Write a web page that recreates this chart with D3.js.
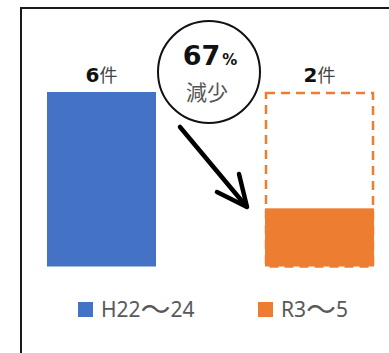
<!DOCTYPE html>
<html>
<head>
<meta charset="utf-8">
<script src="https://cdn.jsdelivr.net/npm/d3@7"></script>
<style>
  html, body { margin: 0; padding: 0; background: #fff; overflow: hidden; }
  svg { display: block; }
</style>
</head>
<body>
<svg id="chart" width="389" height="353"></svg>
<script>
// Case counts for the two periods
const categories = ["H22～24", "R3～5"];
const values = [6, 2];
const unit = "件";
const colors = ["#4472C4", "#ED7D31"];
const reductionLabel = "67";
const reductionUnit = "%";
const reductionText = "減少";

const svg = d3.select("#chart");
const cjk = "'Noto Sans CJK JP', sans-serif";
const boldFont = "'DejaVu Sans', 'Noto Sans CJK JP', sans-serif";
const legendFont = "'Noto Sans', 'Noto Sans CJK JP', sans-serif";

// Frame: top and left edges
svg.append("line")
  .attr("x1", 21).attr("y1", 8).attr("x2", 389).attr("y2", 8)
  .attr("stroke", "#1a1a1a").attr("stroke-width", 2);
svg.append("line")
  .attr("x1", 21).attr("y1", 7).attr("x2", 21).attr("y2", 353)
  .attr("stroke", "#1a1a1a").attr("stroke-width", 2);

const x = d3.scaleBand()
  .domain(categories)
  .range([47, 374])
  .paddingInner(0.5)
  .paddingOuter(0);

const y = d3.scaleLinear()
  .domain([0, 6])
  .range([266.5, 92]);

// Bars
svg.selectAll("rect.bar")
  .data(categories)
  .join("rect")
  .attr("class", "bar")
  .attr("x", d => x(d))
  .attr("y", (d, i) => y(values[i]))
  .attr("width", x.bandwidth())
  .attr("height", (d, i) => y(0) - y(values[i]))
  .attr("fill", (d, i) => colors[i]);

// Dashed outline of the earlier level over the later bar
svg.append("rect")
  .attr("x", x(categories[1]) + 1)
  .attr("y", y(values[0]) + 1)
  .attr("width", x.bandwidth() - 2)
  .attr("height", y(0) - y(values[0]) - 1)
  .attr("fill", "none")
  .attr("stroke", colors[1])
  .attr("stroke-width", 2.5)
  .attr("stroke-dasharray", "9,6");

// Value labels above the bars
const labelY = y(values[0]) - 10;
categories.forEach((c, i) => {
  const t = svg.append("text")
    .attr("x", x(c) + x.bandwidth() / 2)
    .attr("y", labelY)
    .attr("text-anchor", "middle");
  t.append("tspan")
    .attr("font-family", boldFont)
    .attr("font-size", 20)
    .attr("font-weight", "bold")
    .attr("fill", "#111")
    .text(values[i]);
  t.append("tspan")
    .attr("font-family", cjk)
    .attr("font-size", 18)
    .attr("fill", "#444")
    .text(unit);
});

// Reduction badge between the bars
const cx = 209, cy = 72, r = 51;
svg.append("circle")
  .attr("cx", cx).attr("cy", cy).attr("r", r)
  .attr("fill", "#fff")
  .attr("stroke", "#111")
  .attr("stroke-width", 2);

const pct = svg.append("text")
  .attr("x", cx + 1).attr("y", 65)
  .attr("text-anchor", "middle")
  .attr("font-family", boldFont)
  .attr("font-weight", "bold")
  .attr("fill", "#111");
pct.append("tspan").attr("font-size", 27).text(reductionLabel);
pct.append("tspan").attr("font-size", 15).attr("dx", 2).text(reductionUnit);

svg.append("text")
  .attr("x", cx - 2).attr("y", 100)
  .attr("text-anchor", "middle")
  .attr("font-family", cjk)
  .attr("font-size", 21)
  .attr("fill", "#555")
  .text(reductionText);

// Arrow from the badge down to the smaller bar
const arrow = svg.append("g")
  .attr("fill", "none")
  .attr("stroke", "#000")
  .attr("stroke-width", 4.5)
  .attr("stroke-linecap", "round")
  .attr("stroke-linejoin", "round");
arrow.append("line")
  .attr("x1", 180).attr("y1", 127)
  .attr("x2", 246).attr("y2", 206);
arrow.append("polyline")
  .attr("points", "239,174 247,207 217,192");

// Legend; the wave dash is drawn wider, as in the label style
const legendX = [78, 258];
categories.forEach((c, i) => {
  svg.append("rect")
    .attr("x", legendX[i]).attr("y", 302)
    .attr("width", 15).attr("height", 15)
    .attr("fill", colors[i]);
  const t = svg.append("text")
    .attr("x", legendX[i] + 23).attr("y", 317)
    .attr("font-family", legendFont)
    .attr("font-size", 21)
    .attr("fill", "#595959");
  const parts = c.split("～");
  t.append("tspan").text(parts[0]);
  t.append("tspan")
    .attr("font-family", cjk)
    .attr("font-size", 30)
    .attr("dy", 3)
    .text("～");
  t.append("tspan").attr("dy", -3).text(parts[1]);
});
</script>
</body>
</html>
